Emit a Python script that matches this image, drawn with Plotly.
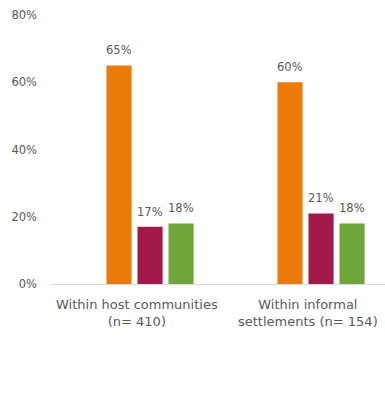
import plotly.graph_objects as go

categories = ["Within host communities<br>(n= 410)", "Within informal<br>settlements (n= 154)"]
series_names = ["Series A", "Series B", "Series C"]
series_values = [
    [0.65, 0.60],
    [0.17, 0.21],
    [0.18, 0.18],
]
colors = ["#EC7A08", "#A3184A", "#6FA63A"]
y_ticks = [0, 0.2, 0.4, 0.6, 0.8]
y_tick_labels = ["0%", "20%", "40%", "60%", "80%"]

FONT = "DejaVu Sans, sans-serif"
TXT = "#595959"
BARGAP = 0.456

fig = go.Figure()
for name, vals, col in zip(series_names, series_values, colors):
    fig.add_trace(go.Bar(
        x=categories, y=vals, name=name, marker_color=col,
        marker_line_width=0,
    ))

annotations = []
n = len(series_values)
step = (1 - BARGAP) / n
for i, vals in enumerate(series_values):
    for j, v in enumerate(vals):
        annotations.append(dict(
            x=j + (i - (n - 1) / 2) * step, y=v, xref="x", yref="y",
            text=f"{round(v*100)}%", showarrow=False,
            yanchor="bottom", yshift=6,
            font=dict(family=FONT, size=11.5, color=TXT),
        ))
for j, c in enumerate(categories):
    annotations.append(dict(
        x=j, y=0, xref="x", yref="y", text=c, showarrow=False,
        yanchor="top", yshift=-11, xshift=-13,
        font=dict(family=FONT, size=13, color=TXT),
    ))

fig.update_layout(
    width=385, height=403,
    margin=dict(l=50, r=0, t=15, b=119),
    paper_bgcolor="white", plot_bgcolor="white",
    barmode="group", bargap=BARGAP, bargroupgap=0.19,
    showlegend=False,
    font=dict(family=FONT, size=11.5, color=TXT),
    annotations=annotations,
)
fig.update_xaxes(
    range=[-0.585, 1.374], showline=True, linecolor="#D9D9D9", linewidth=1,
    ticks="", showticklabels=False, showgrid=False,
)
fig.update_yaxes(
    range=[0, 0.8], tickvals=y_ticks, ticktext=y_tick_labels,
    showgrid=False, zeroline=False, showline=False, ticks="",
    ticklabelstandoff=12,
    tickfont=dict(family=FONT, size=11.5, color=TXT),
)
fig.write_html("out.html")
